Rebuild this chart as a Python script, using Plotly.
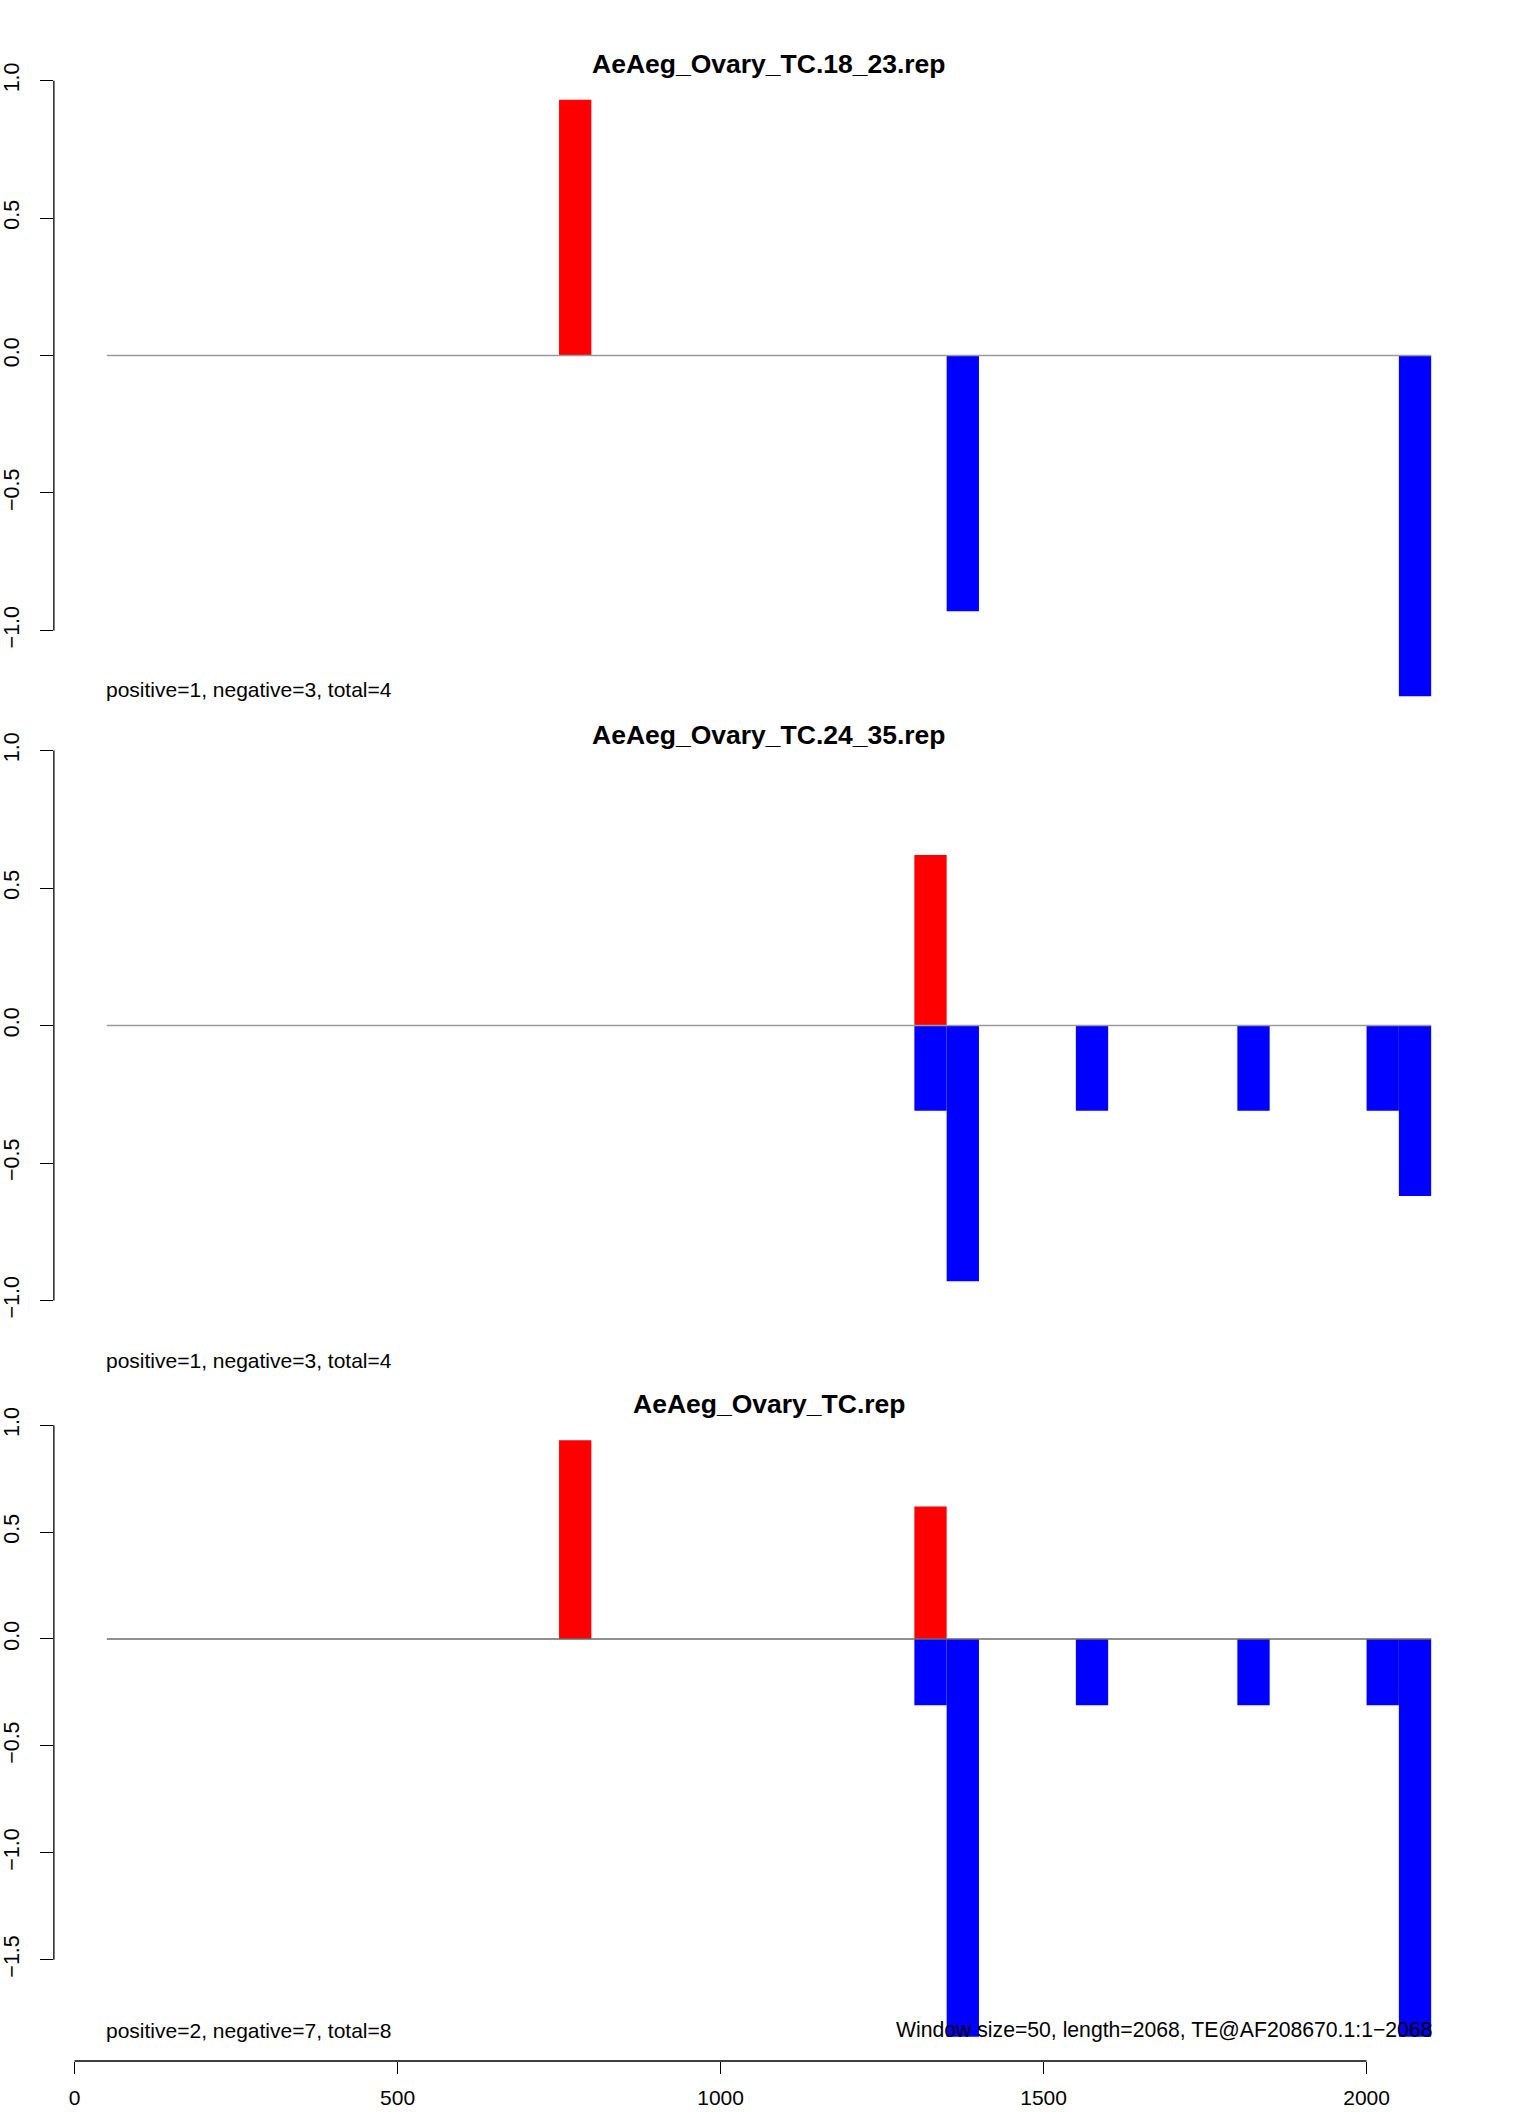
import plotly.graph_objects as go

W, H = 1536, 2112
FONT = "Liberation Sans, Arial, sans-serif"

window = 50
panel_titles = ["AeAeg_Ovary_TC.18_23.rep", "AeAeg_Ovary_TC.24_35.rep", "AeAeg_Ovary_TC.rep"]
panel_stats = ["positive=1, negative=3, total=4",
               "positive=1, negative=3, total=4",
               "positive=2, negative=7, total=8"]
footer_text = "Window size=50, length=2068, TE@AF208670.1:1\u22122068"

pos_starts_1 = [750]
pos_vals_1 = [0.93]
neg_starts_1 = [1350, 2050]
neg_vals_1 = [-0.93, -1.24]

pos_starts_2 = [1300]
pos_vals_2 = [0.62]
neg_starts_2 = [1300, 1350, 1550, 1800, 2000, 2050]
neg_vals_2 = [-0.31, -0.93, -0.31, -0.31, -0.31, -0.62]

pos_starts_3 = [750, 1300]
pos_vals_3 = [0.93, 0.62]
neg_starts_3 = [1300, 1350, 1550, 1800, 2000, 2050]
neg_vals_3 = [-0.31, -1.86, -0.31, -0.31, -0.31, -1.86]

x_ticks = [0, 500, 1000, 1500, 2000]
y_ticks_12 = [-1.0, -0.5, 0.0, 0.5, 1.0]
y_ticks_3 = [-1.5, -1.0, -0.5, 0.0, 0.5, 1.0]
baseline_x = [50, 2100]

x_range = [-32, 2182]
y_ranges = [[-1.3296, 1.0896], [-1.08, 1.08], [-1.974, 1.114]]

# pixel layout helpers
def py(px):
    return 1 - px / H

def pxx(px):
    return px / W

dom_px = [(56, 721), (728.5, 1322.5), (1400.8, 2061)]
x_dom = [pxx(50), pxx(50 + 0.6477 * (x_range[1] - x_range[0]))]

def fmt(v):
    s = f"{abs(v):.1f}"
    return ("\u2212" + s) if v < 0 else s

fig = go.Figure()
pos_sets = [(pos_starts_1, pos_vals_1), (pos_starts_2, pos_vals_2), (pos_starts_3, pos_vals_3)]
neg_sets = [(neg_starts_1, neg_vals_1), (neg_starts_2, neg_vals_2), (neg_starts_3, neg_vals_3)]
base_colors = ["#9a9a9a", "#9a9a9a", "#6a6a6a"]

for i in range(3):
    xa = "x" if i == 0 else f"x{i+1}"
    ya = "y" if i == 0 else f"y{i+1}"
    ps, pv = pos_sets[i]
    ns, nv = neg_sets[i]
    fig.add_trace(go.Bar(x=[s + window / 2 for s in ps], y=pv, width=window,
                         marker=dict(color="#FF0000", line=dict(width=0)),
                         xaxis=xa, yaxis=ya, showlegend=False))
    fig.add_trace(go.Bar(x=[s + window / 2 for s in ns], y=nv, width=window,
                         marker=dict(color="#0000FF", line=dict(width=0)),
                         xaxis=xa, yaxis=ya, showlegend=False))
    fig.add_trace(go.Scatter(x=baseline_x, y=[0, 0], mode="lines",
                             line=dict(color=base_colors[i], width=1.4),
                             xaxis=xa, yaxis=ya, showlegend=False, hoverinfo="skip"))

layout = dict(width=W, height=H, margin=dict(l=0, r=0, t=0, b=0),
              paper_bgcolor="white", plot_bgcolor="white", barmode="overlay",
              font=dict(family=FONT, color="black"), showlegend=False)

shapes = []
annotations = []
for i in range(3):
    sfx = "" if i == 0 else str(i + 1)
    top, bot = dom_px[i]
    yt = y_ticks_3 if i == 2 else y_ticks_12
    layout["xaxis" + sfx] = dict(domain=x_dom, range=x_range, anchor="y" + sfx,
                                 showgrid=False, zeroline=False, showline=False,
                                 showticklabels=(i == 2), ticks="outside" if i == 2 else "",
                                 tickvals=x_ticks, ticklen=12, tickwidth=1.3, tickcolor="black",
                                 tickfont=dict(family=FONT, size=21, color="black"),
                                 ticklabelstandoff=6)
    layout["yaxis" + sfx] = dict(domain=[py(bot), py(top)], range=y_ranges[i], anchor="x" + sfx,
                                 showgrid=False, zeroline=False, showline=False,
                                 ticks="outside", ticklen=13, tickwidth=1.3, tickcolor="black",
                                 tickvals=yt, ticktext=[fmt(v) for v in yt], tickangle=-90,
                                 tickfont=dict(family=FONT, size=21.5, color="black"),
                                 ticklabelstandoff=12)
    shapes.append(dict(type="line", xref="paper", yref="y" + sfx,
                       x0=x_dom[0], x1=x_dom[0], y0=min(yt), y1=max(yt),
                       line=dict(color="black", width=1.3)))

shapes.append(dict(type="line", xref="x3", yref="paper", x0=min(x_ticks), x1=max(x_ticks),
                   y0=py(2061), y1=py(2061), line=dict(color="black", width=1.3)))

title_y = [64, 735, 1404]
stat_y = [690, 1360, 2030]
for i in range(3):
    annotations.append(dict(text="<b>" + panel_titles[i] + "</b>", xref="paper", yref="paper",
                            x=pxx(767), y=py(title_y[i]), xanchor="center", yanchor="middle",
                            showarrow=False, font=dict(family=FONT, size=26.5, color="black")))
    annotations.append(dict(text=panel_stats[i], xref="paper", yref="paper",
                            x=pxx(100), y=py(stat_y[i]), xanchor="left", yanchor="middle",
                            showarrow=False, font=dict(family=FONT, size=21, color="black")))
annotations.append(dict(text=footer_text, xref="paper", yref="paper",
                        x=pxx(1434), y=py(stat_y[2]), xanchor="right", yanchor="middle",
                        showarrow=False, font=dict(family=FONT, size=21.2, color="black")))

layout["shapes"] = shapes
layout["annotations"] = annotations
fig.update_layout(**layout)
fig.write_html("out.html", config={"displayModeBar": False},
               post_script="document.body.style.margin='0';document.body.style.overflow='hidden';")
